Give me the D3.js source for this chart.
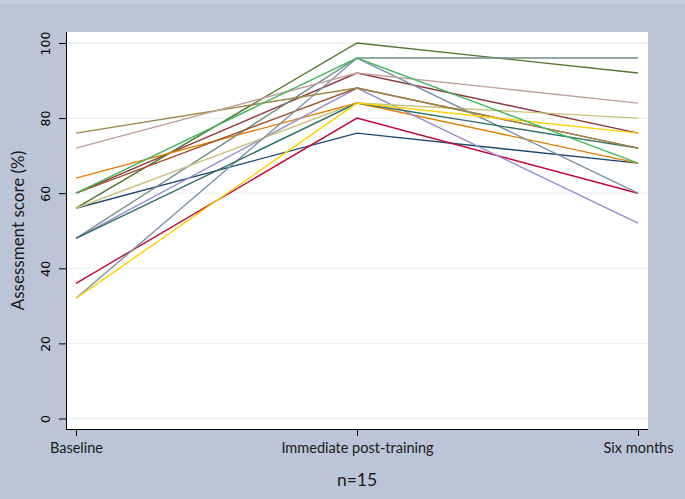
<!DOCTYPE html>
<html>
<head>
<meta charset="utf-8">
<script src="https://cdn.jsdelivr.net/npm/d3@7"></script>
<style>
  body { margin: 0; background: #bcc5d8; }
  svg { display: block; }
</style>
</head>
<body>
<div id="chart"></div>
<script>
// time points on the x axis
const timepoints = ["Baseline", "Immediate post-training", "Six months"];
const yTicks = [0, 20, 40, 60, 80, 100];

// one entry per participant (n=15), in drawing order
const baseline     = [56, 60, 56, 64, 48, 36, 48, 56, 60, 32, 48, 76, 72, 32, 60];
const postTraining = [76, 92, 100, 84, 96, 80, 88, 84, 88, 96, 84, 88, 92, 84, 96];
const sixMonths    = [68, 76, 92, 68, 96, 60, 52, 80, 72, 60, 72, 72, 84, 76, 68];

const lineColors = ["#1a476f", "#90353b", "#55752f", "#e37e00", "#6e8e84",
                    "#c10534", "#938dd2", "#cac27e", "#a0522d", "#7b92a8",
                    "#2d6d66", "#9c8847", "#bfa19c", "#ffd200", "#45b660"];

const yTitle = "Assessment score (%)";
const note = "n=15";

const width = 685, height = 499;
const frame = { left: 66, right: 648, top: 32, bottom: 429 };

const svg = d3.select("#chart").append("svg")
  .attr("width", width)
  .attr("height", height);

svg.append("rect")
  .attr("width", width).attr("height", height)
  .attr("fill", "#bcc5d8");
svg.append("rect")
  .attr("width", width).attr("height", 4)
  .attr("fill", "#c4cbdb");

// white plot region
svg.append("rect")
  .attr("x", frame.left).attr("y", frame.top)
  .attr("width", frame.right - frame.left)
  .attr("height", frame.bottom - frame.top)
  .attr("fill", "#ffffff");

const x = d3.scalePoint()
  .domain(timepoints)
  .range([76, 638]);

const y = d3.scaleLinear()
  .domain([0, 100])
  .range([418.5, 43]);

// gridlines
svg.append("g")
  .selectAll("line")
  .data(yTicks)
  .join("line")
  .attr("x1", frame.left).attr("x2", frame.right)
  .attr("y1", d => y(d)).attr("y2", d => y(d))
  .attr("stroke", "#e9f1f3")
  .attr("stroke-width", 1.3);

// build series
const series = baseline.map((b, i) => [
  { t: timepoints[0], v: b },
  { t: timepoints[1], v: postTraining[i] },
  { t: timepoints[2], v: sixMonths[i] }
]);

const line = d3.line()
  .x(d => x(d.t))
  .y(d => y(d.v));

svg.append("g")
  .selectAll("path")
  .data(series)
  .join("path")
  .attr("fill", "none")
  .attr("stroke", (d, i) => lineColors[i])
  .attr("stroke-width", 1.4)
  .attr("d", line);

// y axis
const yAxis = svg.append("g")
  .attr("transform", `translate(${frame.left},0)`)
  .call(d3.axisLeft(y).tickValues(yTicks).tickSize(7).tickSizeOuter(0));
yAxis.select(".domain").attr("d", `M0.5,${frame.top}V${frame.bottom}`).attr("stroke", "#000");
yAxis.selectAll(".tick line").attr("stroke", "#000");
yAxis.selectAll(".tick text")
  .attr("transform", "rotate(-90)")
  .attr("x", 0)
  .attr("y", -16)
  .attr("dy", null)
  .attr("text-anchor", "middle")
  .attr("fill", "#000")
  .style("font-family", "'DejaVu Sans'")
  .style("font-size", "12.5px");

// x axis
const xAxis = svg.append("g")
  .attr("transform", `translate(0,${frame.bottom})`)
  .call(d3.axisBottom(x).tickSize(7).tickSizeOuter(0));
xAxis.select(".domain").attr("d", `M${frame.left},0.5H${frame.right}`).attr("stroke", "#000");
xAxis.selectAll(".tick line").attr("stroke", "#000");
xAxis.selectAll(".tick text")
  .attr("y", 24)
  .attr("dy", null)
  .attr("fill", "#1a1a1a")
  .style("font-family", "Lato")
  .style("font-size", "14.5px");

// axis title
svg.append("text")
  .attr("transform", `translate(24,${(frame.top + frame.bottom) / 2}) rotate(-90)`)
  .attr("text-anchor", "middle")
  .attr("fill", "#1a1a1a")
  .style("font-family", "Lato")
  .style("font-size", "17px")
  .text(yTitle);

svg.append("text")
  .attr("x", x(timepoints[1]))
  .attr("y", 486)
  .attr("text-anchor", "middle")
  .attr("fill", "#1a1a1a")
  .style("font-family", "Lato")
  .style("font-size", "17.5px")
  .text(note);
</script>
</body>
</html>
